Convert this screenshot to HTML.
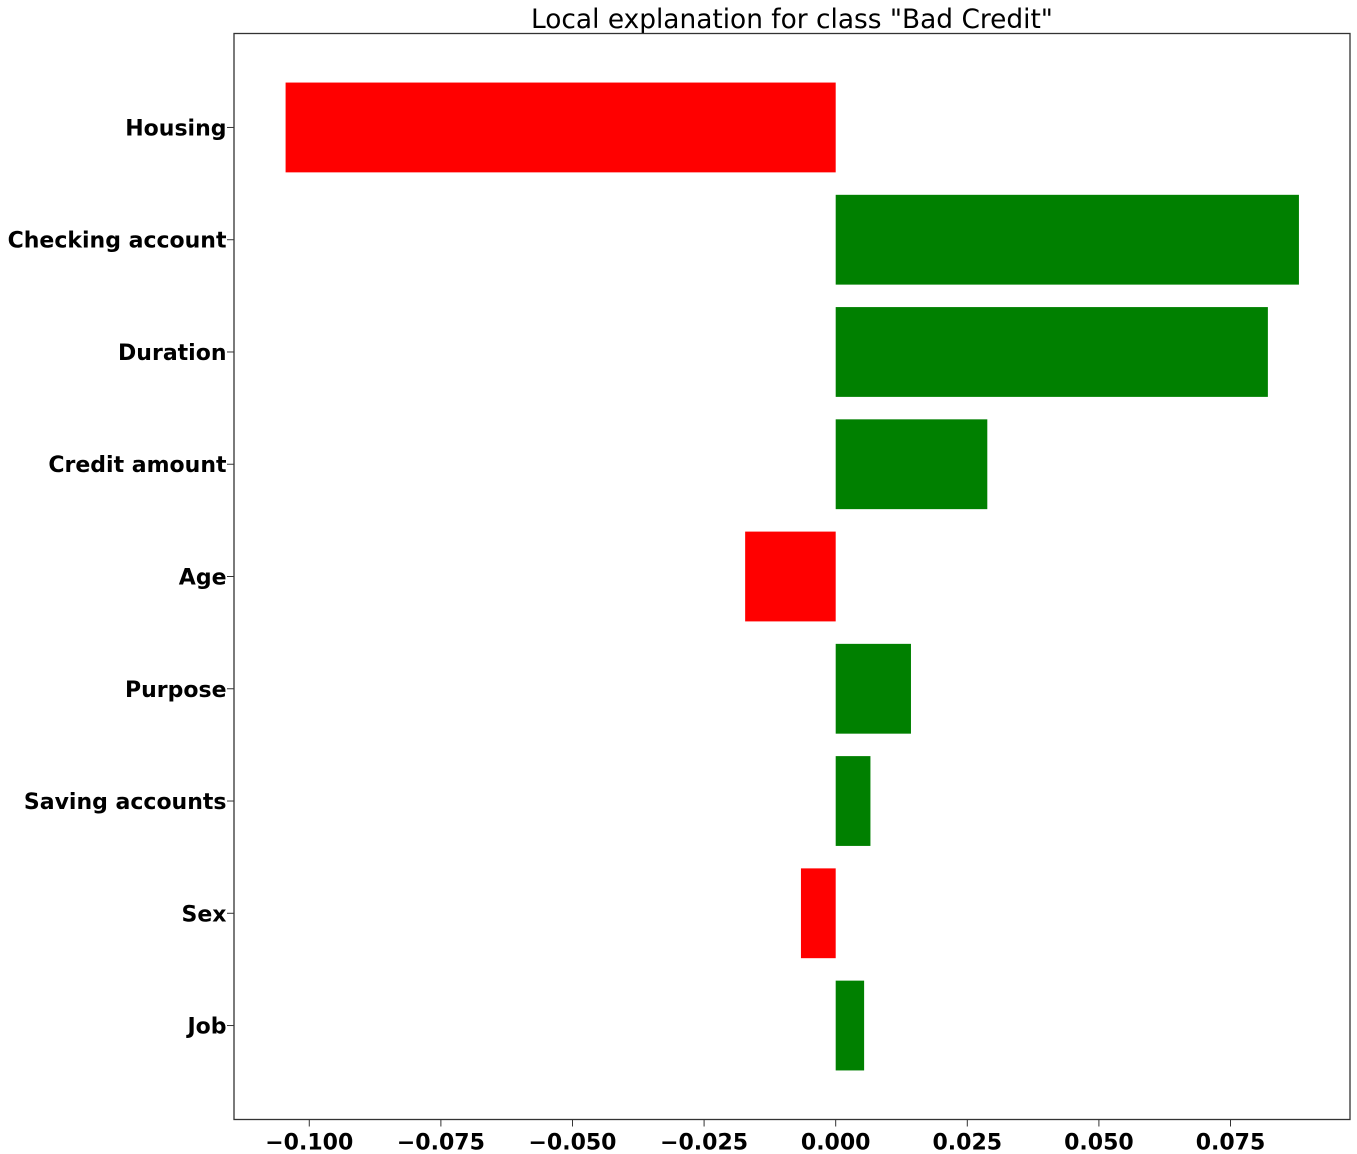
<!DOCTYPE html>
<html><head><meta charset="utf-8"><style>
html,body{margin:0;padding:0;background:#fff;}
svg{display:block;font-family:"DejaVu Sans","Liberation Sans",sans-serif;}
</style></head><body>
<svg id="chart" width="1357" height="1154" viewBox="0 0 1357 1154" xmlns="http://www.w3.org/2000/svg">
<text x="792" y="28" font-size="26.4" text-anchor="middle" fill="#000">Local explanation for class "Bad Credit"</text>
<g id="plot"></g>
<rect x="234" y="33.5" width="1116" height="1086" fill="none" stroke="#333" stroke-width="1.3"/>
</svg>
<script>
const categories = ["Housing","Checking account","Duration","Credit amount","Age","Purpose","Saving accounts","Sex","Job"];
const values = [-0.1045, 0.0880, 0.0821, 0.0288, -0.0172, 0.0143, 0.0066, -0.0066, 0.0054];
const xTicks = [-0.100, -0.075, -0.050, -0.025, 0.000, 0.025, 0.050, 0.075];
const xTickLabels = ["\u22120.100","\u22120.075","\u22120.050","\u22120.025","0.000","0.025","0.050","0.075"];

const X0 = 234, X1 = 1350, Y0 = 33.5, Y1 = 1119.5;
const xMin = -0.1143, xMax = 0.0977;
const x = v => X0 + (v - xMin) / (xMax - xMin) * (X1 - X0);
const n = categories.length;
const yMin = -0.837, yMax = n - 1 + 0.837;
const y = i => Y0 + (i - yMin) / (yMax - yMin) * (Y1 - Y0);
const band = (Y1 - Y0) / (yMax - yMin);
const NS = "http://www.w3.org/2000/svg";
const g = document.getElementById('plot');

categories.forEach((c, i) => {
  const v = values[i];
  const r = document.createElementNS(NS, 'rect');
  
  
  const xa = x(Math.min(0, v)), xb = x(Math.max(0, v));
  r.setAttribute('x', xa);
  r.setAttribute('width', xb - xa);
  r.setAttribute('y', y(i) - band * 0.4);
  r.setAttribute('height', band * 0.8);
  r.setAttribute('fill', v < 0 ? '#ff0000' : '#008000');
  g.appendChild(r);

  const t = document.createElementNS(NS, 'line');
  
  
  t.setAttribute('x1', X0 - 7); t.setAttribute('x2', X0);
  t.setAttribute('y1', y(i)); t.setAttribute('y2', y(i));
  t.setAttribute('stroke', '#333');
  g.appendChild(t);

  const l = document.createElementNS(NS, 'text');
  
  
  l.setAttribute('x', X0 - 7.5);
  l.setAttribute('y', y(i) + 8);
  l.setAttribute('text-anchor', 'end');
  l.setAttribute('font-size', '22');
  l.setAttribute('font-weight', 'bold');
  l.textContent = c;
  g.appendChild(l);
});

xTicks.forEach((v, i) => {
  const t = document.createElementNS(NS, 'line');
  
  
  t.setAttribute('x1', x(v)); t.setAttribute('x2', x(v));
  t.setAttribute('y1', Y1); t.setAttribute('y2', Y1 + 7);
  t.setAttribute('stroke', '#333');
  g.appendChild(t);

  const l = document.createElementNS(NS, 'text');
  
  
  l.setAttribute('x', x(v));
  l.setAttribute('y', Y1 + 30);
  l.setAttribute('text-anchor', 'middle');
  l.setAttribute('font-size', '22');
  l.setAttribute('font-weight', 'bold');
  l.textContent = xTickLabels[i];
  g.appendChild(l);
});
</script>
</body></html>
